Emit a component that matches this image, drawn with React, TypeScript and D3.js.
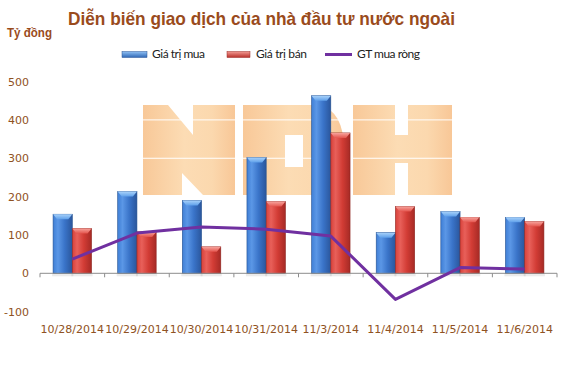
import React from "react";
import * as d3 from "d3";

const categories = ["10/28/2014", "10/29/2014", "10/30/2014", "10/31/2014", "11/3/2014", "11/4/2014", "11/5/2014", "11/6/2014"];
const buyValues = [154, 213, 190, 302, 463, 106, 161, 146];
const sellValues = [117, 108, 69, 187, 366, 174, 146, 135];
const netValues = [37, 105, 121, 115, 97, -68, 15, 11];
const yTicks = [-100, 0, 100, 200, 300, 400, 500];
const seriesNames = ["Giá trị mua", "Giá trị bán", "GT mua ròng"];

const W = 567;
const H = 370;
const brown = "#9a4b1c";
const labelColor = "#8f5222";

export default function App() {
  const x = d3.scaleBand<string>().domain(categories).range([40, 557]).paddingInner(0).paddingOuter(0);
  const x1 = d3.scaleBand<string>().domain(["buy", "sell"]).range([0, x.bandwidth()]).paddingInner(0).paddingOuter(0.68);
  const y = d3.scaleLinear().domain([-100, 500]).range([311.65, 81.55]);
  const y0 = y(0);
  const line = d3
    .line<number>()
    .x((_, i) => (x(categories[i]) as number) + x.bandwidth() / 2)
    .y((d) => y(d));

  const bars: { key: string; cat: string; v: number; kind: "buy" | "sell" }[] = [];
  categories.forEach((c, i) => {
    bars.push({ key: c + "b", cat: c, v: buyValues[i], kind: "buy" });
    bars.push({ key: c + "s", cat: c, v: sellValues[i], kind: "sell" });
  });

  const tickXs = categories.map((c) => x(c) as number).concat([557]);

  return (
    <svg width={W} height={H} style={{ position: "absolute", left: 0, top: 0 }}>
      <defs>
        <linearGradient id="gBlue" x1="0" x2="1" y1="0" y2="0">
          <stop offset="0" stopColor="#3f7fd6" />
          <stop offset="0.25" stopColor="#5b97e6" />
          <stop offset="0.6" stopColor="#3a74c9" />
          <stop offset="1" stopColor="#2a569c" />
        </linearGradient>
        <linearGradient id="gRed" x1="0" x2="1" y1="0" y2="0">
          <stop offset="0" stopColor="#d8413a" />
          <stop offset="0.25" stopColor="#e8605a" />
          <stop offset="0.6" stopColor="#d23c35" />
          <stop offset="1" stopColor="#a62a25" />
        </linearGradient>
        <linearGradient id="gBlueTop" x1="0" x2="0" y1="0" y2="1">
          <stop offset="0" stopColor="#a9d2fa" />
          <stop offset="1" stopColor="#5fa0ea" />
        </linearGradient>
        <linearGradient id="gRedTop" x1="0" x2="0" y1="0" y2="1">
          <stop offset="0" stopColor="#f7a39c" />
          <stop offset="1" stopColor="#e4554e" />
        </linearGradient>
        <linearGradient id="gWm" x1="0" x2="1" y1="0" y2="0">
          <stop offset="0" stopColor="#f8c898" />
          <stop offset="0.45" stopColor="#fcdcb4" />
          <stop offset="0.75" stopColor="#fbd8ae" />
          <stop offset="1" stopColor="#f8c797" />
        </linearGradient>
        <linearGradient id="gLegB" x1="0" x2="0" y1="0" y2="1">
          <stop offset="0" stopColor="#8fc0f4" />
          <stop offset="1" stopColor="#2f67b5" />
        </linearGradient>
        <linearGradient id="gLegR" x1="0" x2="0" y1="0" y2="1">
          <stop offset="0" stopColor="#f39a93" />
          <stop offset="1" stopColor="#b8302a" />
        </linearGradient>
      </defs>
      <rect x={0} y={0} width={W} height={H} fill="#ffffff" />

      {/* watermark NDH */}
      <g fill="url(#gWm)" fillRule="evenodd">
        <path d="M143,105 L168,105 L193,135 L193,105 L235,105 L235,195 L203,195 L182,173 L182,195 L143,195 Z" />
        <path d="M243,105 L318,105 Q344,110 344,150 Q344,190 318,195 L243,195 Z M285,135 L303,135 L303,167 L285,167 Z" />
        <path d="M353,105 L395,105 L395,135 L408,135 L408,105 L452,105 L452,195 L408,195 L408,163 L395,163 L395,195 L353,195 Z" />
      </g>

      {/* white gridlines */}
      {yTicks.filter((t) => t > 0).map((t) => (
        <line key={t} x1={40} x2={557} y1={y(t)} y2={y(t)} stroke="#ffffff" strokeWidth={1} />
      ))}

      {/* title */}
      <text x={68} y={25} fontFamily="Liberation Sans, Arial, sans-serif" fontWeight="bold" fontSize={18.5} fill={brown} textLength={387} lengthAdjust="spacingAndGlyphs">
        Diễn biến giao dịch của nhà đầu tư nước ngoài
      </text>
      <text x={7} y={37} fontFamily="Liberation Sans, Arial, sans-serif" fontWeight="bold" fontSize={12.5} fill={brown} textLength={45} lengthAdjust="spacingAndGlyphs">
        Tỷ đồng
      </text>

      {/* legend */}
      <g fontFamily="Lato, 'Open Sans', sans-serif" fontSize={12} fill="#222">
        <rect x={122} y={51.5} width={25} height={6} fill="url(#gLegB)" stroke="#2a5595" strokeWidth={0.5} />
        <text x={152} y={58} textLength={53}>{seriesNames[0]}</text>
        <rect x={227} y={51.5} width={23} height={6} fill="url(#gLegR)" stroke="#9b2a25" strokeWidth={0.5} />
        <text x={256} y={58} textLength={51}>{seriesNames[1]}</text>
        <line x1={325} x2={352} y1={54.5} y2={54.5} stroke="#7030a0" strokeWidth={3} />
        <text x={357} y={58} textLength={63}>{seriesNames[2]}</text>
      </g>

      {/* y labels */}
      <g fontFamily="DejaVu Sans, Verdana, sans-serif" fontSize={11} fill={labelColor} textAnchor="end">
        {yTicks.map((t) => (
          <text key={t} x={29} y={y(t) + 4}>
            {t}
          </text>
        ))}
      </g>

      {/* bar shadows */}
      {bars.map((b) => {
        const bx = (x(b.cat) as number) + (x1(b.kind) as number);
        return <rect key={b.key + "sh"} x={bx - 1} y={y0} width={x1.bandwidth() + 2} height={3} fill="#000" opacity={0.08} />;
      })}

      {/* bars */}
      {bars.map((b) => {
        const bx = (x(b.cat) as number) + (x1(b.kind) as number);
        const bw = x1.bandwidth();
        const top = y(b.v);
        const isBuy = b.kind === "buy";
        const cap = 5;
        return (
          <g key={b.key}>
            <rect x={bx} y={top} width={bw} height={y0 - top} fill={isBuy ? "url(#gBlue)" : "url(#gRed)"} stroke={isBuy ? "#24508f" : "#8e2621"} strokeWidth={0.6} />
            <path
              d={`M${bx},${top} L${bx + bw},${top} L${bx + bw - 4},${top + cap} L${bx + 4},${top + cap} Z`}
              fill={isBuy ? "url(#gBlueTop)" : "url(#gRedTop)"}
            />
          </g>
        );
      })}

      {/* axis line and ticks */}
      <line x1={40} x2={557} y1={y0} y2={y0} stroke="#8c8c8c" strokeWidth={1} />
      {tickXs.map((tx, i) => (
        <line key={i} x1={tx} x2={tx} y1={y0} y2={y0 + 4} stroke="#8c8c8c" strokeWidth={1} />
      ))}

      {/* net line */}
      <path d={line(netValues) || ""} fill="none" stroke="#7030a0" strokeWidth={3} strokeLinejoin="round" />

      {/* x labels */}
      <g fontFamily="DejaVu Sans, Verdana, sans-serif" fontSize={11} fill={labelColor} textAnchor="middle">
        {categories.map((c) => (
          <text key={c} x={(x(c) as number) + x.bandwidth() / 2} y={333}>
            {c}
          </text>
        ))}
      </g>
    </svg>
  );
}
